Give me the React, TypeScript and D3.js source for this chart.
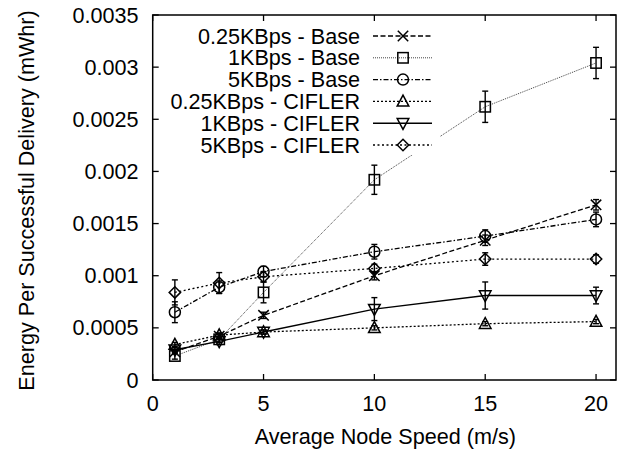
import React from "react";
import * as d3 from "d3";

const speeds = [1, 3, 5, 10, 15, 20];
const seriesNames = [
  "0.25KBps - Base",
  "1KBps - Base",
  "5KBps - Base",
  "0.25KBps - CIFLER",
  "1KBps - CIFLER",
  "5KBps - CIFLER",
];
const base025 = [0.00027, 0.00042, 0.00062, 0.00100, 0.00134, 0.00168];
const base025Err = [0.00002, 0.00003, 0.00003, 0.00004, 0.00005, 0.00005];
const base1 = [0.00023, 0.00039, 0.00084, 0.00192, 0.00262, 0.00304];
const base1Err = [0.00003, 0.00003, 0.0001, 0.00014, 0.00015, 0.00015];
const base5 = [0.00065, 0.00089, 0.00104, 0.00123, 0.00138, 0.00154];
const base5Err = [0.0001, 0.00006, 0.00005, 0.00007, 0.00006, 0.00007];
const cifler025 = [0.00034, 0.00043, 0.00046, 0.0005, 0.00054, 0.00056];
const cifler025Err = [0.00002, 0.00002, 0.00002, 0.00002, 0.00002, 0.00002];
const cifler1 = [0.00029, 0.00037, 0.00046, 0.00068, 0.00081, 0.00081];
const cifler1Err = [0.00002, 0.00003, 0.00002, 0.00011, 0.00013, 0.00008];
const cifler5 = [0.00084, 0.00093, 0.00099, 0.00107, 0.00116, 0.00116];
const cifler5Err = [0.00012, 0.0001, 0.00005, 0.00004, 0.00006, 0.00004];

const xTicks = [0, 5, 10, 15, 20];
const yTicks = [0, 0.0005, 0.001, 0.0015, 0.002, 0.0025, 0.003, 0.0035];
const yTickLabels = ["0", "0.0005", "0.001", "0.0015", "0.002", "0.0025", "0.003", "0.0035"];

const W = 624;
const H = 451;
const L = 152.7;
const R = 616;
const T = 15;
const B = 380;

const FONT = "'Liberation Sans', Arial, Helvetica, sans-serif";
const FS = 21.6;

type Sym = "x" | "square" | "circle" | "tri" | "trid" | "diamond";
const styles: { sym: Sym; dash: string; color: string; width: number }[] = [
  { sym: "x", dash: "5,2.5", color: "#000", width: 1.3 },
  { sym: "square", dash: "1,1", color: "#444", width: 1 },
  { sym: "circle", dash: "5,2,1.5,2", color: "#000", width: 1.3 },
  { sym: "tri", dash: "2,2", color: "#000", width: 1.3 },
  { sym: "trid", dash: "", color: "#000", width: 1.4 },
  { sym: "diamond", dash: "2,2.5", color: "#000", width: 1.3 },
];

function Marker({ sym, cx, cy }: { sym: Sym; cx: number; cy: number }) {
  const s = 5.2;
  const common = { fill: "none", stroke: "#000", strokeWidth: 1.5 };
  switch (sym) {
    case "x":
      return (
        <path
          d={`M${cx - s},${cy - s}L${cx + s},${cy + s}M${cx - s},${cy + s}L${cx + s},${cy - s}`}
          {...common}
        />
      );
    case "square":
      return <rect x={cx - s} y={cy - s} width={2 * s} height={2 * s} {...common} />;
    case "circle":
      return <circle cx={cx} cy={cy} r={s + 0.3} {...common} />;
    case "tri":
      return (
        <path d={`M${cx},${cy - s - 1}L${cx + s + 0.6},${cy + s - 0.5}L${cx - s - 0.6},${cy + s - 0.5}Z`} {...common} />
      );
    case "trid":
      return (
        <path d={`M${cx},${cy + s + 1}L${cx + s + 0.6},${cy - s + 0.5}L${cx - s - 0.6},${cy - s + 0.5}Z`} {...common} />
      );
    case "diamond":
      return (
        <path d={`M${cx},${cy - s - 0.5}L${cx + s + 0.5},${cy}L${cx},${cy + s + 0.5}L${cx - s - 0.5},${cy}Z`} {...common} />
      );
  }
}

export default function App() {
  const x = d3.scaleLinear().domain([0, 20.9]).range([L, R]);
  const y = d3.scaleLinear().domain([0, 0.0035]).range([B, T]);

  const data = [base025, base1, base5, cifler025, cifler1, cifler5];
  const errs = [base025Err, base1Err, base5Err, cifler025Err, cifler1Err, cifler5Err];

  const line = d3
    .line<number>()
    .x((_, i) => x(speeds[i]))
    .y((d) => y(d));

  const tick = 6;
  const legendY0 = 36;
  const legendDY = 21.8;

  return (
    <svg
      width={W}
      height={H}
      style={{ position: "absolute", left: 0, top: 0, background: "#fff" }}
      fontFamily={FONT}
    >
      <rect x={0} y={0} width={W} height={H} fill="#fff" />
      {data.map((vals, si) => {
        const st = styles[si];
        return (
          <g key={si}>
            <path
              d={line(vals) || ""}
              fill="none"
              stroke={st.color}
              strokeWidth={st.width}
              strokeDasharray={st.dash || undefined}
            />
            {vals.map((v, i) => {
              const cx = x(speeds[i]);
              const y1 = y(v + errs[si][i]);
              const y2 = y(v - errs[si][i]);
              return (
                <g key={i} stroke="#000" strokeWidth={1.4}>
                  <line x1={cx} x2={cx} y1={y1} y2={y2} />
                  <line x1={cx - 3} x2={cx + 3} y1={y1} y2={y1} />
                  <line x1={cx - 3} x2={cx + 3} y1={y2} y2={y2} />
                </g>
              );
            })}
            {vals.map((v, i) => (
              <Marker key={"m" + i} sym={st.sym} cx={x(speeds[i])} cy={y(v)} />
            ))}
          </g>
        );
      })}

      <rect x={L} y={T} width={R - L} height={B - T} fill="none" stroke="#000" strokeWidth={1.5} />
      {xTicks.map((t) => (
        <g key={"xt" + t} stroke="#000" strokeWidth={1.3}>
          <line x1={x(t)} x2={x(t)} y1={B} y2={B - tick} />
          <line x1={x(t)} x2={x(t)} y1={T} y2={T + tick} />
        </g>
      ))}
      {yTicks.map((t) => (
        <g key={"yt" + t} stroke="#000" strokeWidth={1.3}>
          <line x1={L} x2={L + tick} y1={y(t)} y2={y(t)} />
          <line x1={R} x2={R - tick} y1={y(t)} y2={y(t)} />
        </g>
      ))}
      {xTicks.map((t) => (
        <text key={"xl" + t} x={x(t)} y={403} dy="0.35em" textAnchor="middle" fontSize={FS} fill="#000">
          {t}
        </text>
      ))}
      {yTicks.map((t, i) => (
        <text key={"yl" + t} x={138.5} y={y(t)} dy="0.35em" textAnchor="end" fontSize={FS} fill="#000">
          {yTickLabels[i]}
        </text>
      ))}
      <text x={(L + R) / 2 + 1} y={436.7} dy="0.35em" textAnchor="middle" fontSize={FS} fill="#000">
        Average Node Speed (m/s)
      </text>
      <text
        transform={`translate(26.7,${(T + B) / 2 + 3}) rotate(-90)`}
        dy="0.35em"
        textAnchor="middle"
        fontSize={FS}
        fill="#000"
      >
        Energy Per Successful Delivery (mWhr)
      </text>

      {seriesNames.map((name, i) => {
        const st = styles[i];
        const ly = legendY0 + i * legendDY;
        return (
          <g key={"lg" + i}>
            <rect x={165} y={ly - 10} width={275} height={20} fill="#fff" />
            <text x={360} y={ly} dy="0.35em" textAnchor="end" fontSize={FS} fill="#000">
              {name}
            </text>
            <line
              x1={373}
              x2={432}
              y1={ly}
              y2={ly}
              stroke={st.color}
              strokeWidth={st.width}
              strokeDasharray={st.dash || undefined}
            />
            <Marker sym={st.sym} cx={403} cy={ly} />
          </g>
        );
      })}
    </svg>
  );
}
